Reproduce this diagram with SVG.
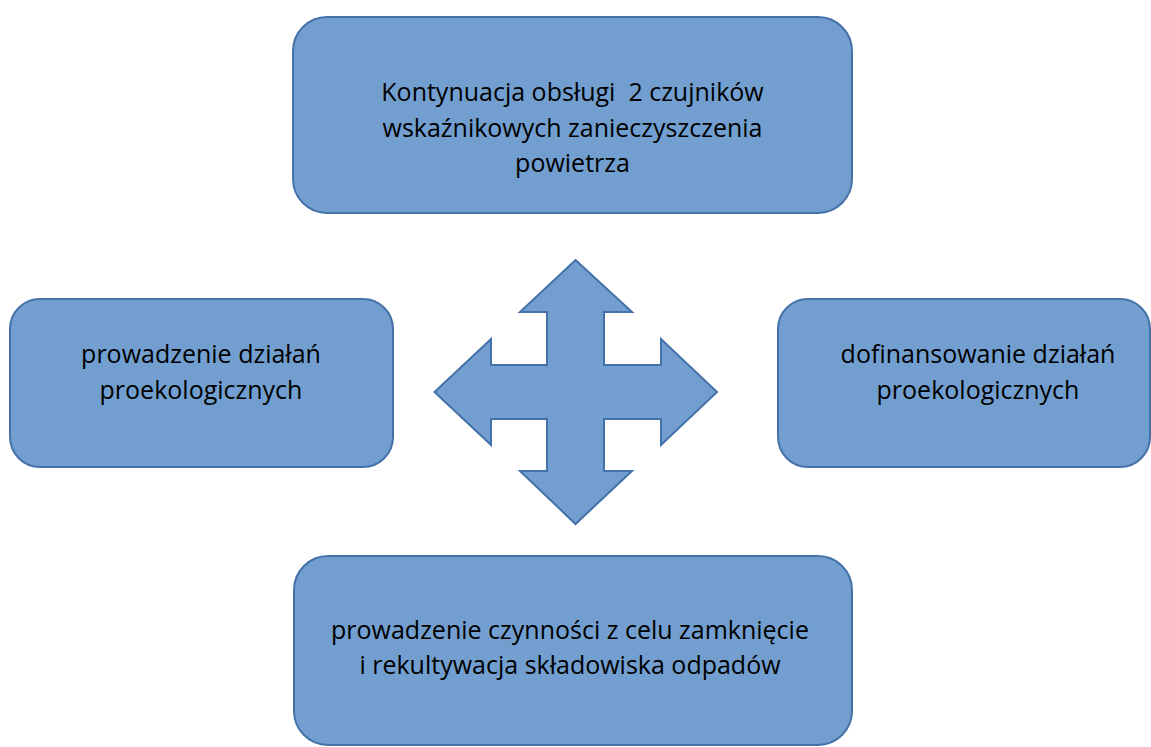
<svg xmlns="http://www.w3.org/2000/svg" width="1151" height="747" viewBox="0 0 1151 747">
<style>
.box{fill:#729fcf;stroke:#4472a8;stroke-width:2}
.t{font-family:"Open Sans","Liberation Sans",sans-serif;font-size:25px;fill:#000;text-anchor:middle;white-space:pre}
</style>
<rect width="1151" height="747" fill="#fff"/>
<g id="top">
<rect class="box" x="293" y="17" width="559" height="196" rx="34"/>
<text class="t" x="572.5" y="101" xml:space="preserve">Kontynuacja obsługi  2 czujników</text>
<text class="t" x="572.5" y="136.5">wskaźnikowych zanieczyszczenia</text>
<text class="t" x="572.5" y="172">powietrza</text>
</g>
<g id="left">
<rect class="box" x="10" y="299" width="383" height="168" rx="30"/>
<text class="t" x="201" y="363">prowadzenie działań</text>
<text class="t" x="201" y="399">proekologicznych</text>
</g>
<g id="right">
<rect class="box" x="778" y="299" width="372" height="168" rx="30"/>
<text class="t" x="978" y="363">dofinansowanie działań</text>
<text class="t" x="978" y="399">proekologicznych</text>
</g>
<g id="bottom">
<rect class="box" x="294" y="556" width="558" height="189" rx="34"/>
<text class="t" x="570" y="639">prowadzenie czynności z celu zamknięcie</text>
<text class="t" x="570" y="674">i rekultywacja składowiska odpadów</text>
</g>
<g id="connectors">
<path class="box" d="M575.5,260 L632,312 L604,312 L604,365 L661,365 L661,339 L717,392 L661,445 L661,419 L604,419 L604,471 L632,471 L575.5,524 L520,471 L547,471 L547,419 L491,419 L491,445 L434.5,392 L491,339 L491,365 L547,365 L547,312 L520,312 Z"/>
</g>
</svg>
